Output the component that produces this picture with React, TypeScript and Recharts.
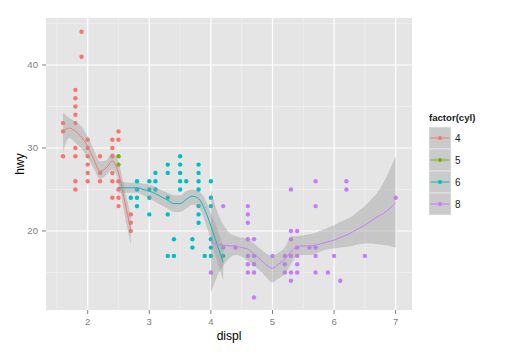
import React from 'react';
import {
  ComposedChart,
  Scatter,
  Line,
  Area,
  XAxis,
  YAxis,
  CartesianGrid,
  Label
} from 'recharts';

// axis setup
const xTicks = [2, 3, 4, 5, 6, 7];
const yTicks = [20, 30, 40];
const xMinor = [1.5, 2.5, 3.5, 4.5, 5.5, 6.5];
const yMinor = [15, 25, 35, 45];
const xDomain = [1.323, 7.265];
const yDomain = [10.48, 45.66];

const cylLevels = ['4', '5', '6', '8'];
const cylColors = ['#F8766D', '#7CAE00', '#00BFC4', '#C77CFF'];

// points: [displ, hwy values at that displ]
const cyl4Raw: [number, number[]][] = [
  [1.6, [33, 32, 29]],
  [1.8, [37, 36, 35, 34, 33, 30, 29, 26, 25]],
  [1.9, [44, 41]],
  [2.0, [31, 30, 29, 28, 27, 26]],
  [2.2, [29, 27, 26]],
  [2.4, [31, 30, 29, 27, 26, 24]],
  [2.5, [32, 31, 26, 25, 24, 23]],
  [2.7, [22, 21, 20]],
];
const cyl5Raw: [number, number[]][] = [
  [2.5, [29, 28]],
];
const cyl6Raw: [number, number[]][] = [
  [2.7, [24]],
  [2.8, [26, 25, 24, 23]],
  [3.0, [26, 25, 24, 22]],
  [3.1, [27, 26, 25]],
  [3.3, [28, 27, 24, 22, 17]],
  [3.4, [19, 17]],
  [3.5, [29, 28, 27, 26, 25]],
  [3.6, [26]],
  [3.7, [19, 18]],
  [3.8, [28, 27, 26, 25, 23, 22, 21]],
  [3.9, [17]],
  [4.0, [26, 24, 23, 19, 18, 17]],
  [4.2, [17]],
];
const cyl8Raw: [number, number[]][] = [
  [4.0, [15]],
  [4.2, [23, 18]],
  [4.4, [18]],
  [4.6, [23, 22, 21, 19, 17, 16, 15]],
  [4.7, [19, 17, 16, 15, 12]],
  [5.0, [17]],
  [5.2, [17, 16, 15]],
  [5.3, [25, 20, 19, 17, 15, 14]],
  [5.4, [20, 18, 17, 16, 15]],
  [5.6, [18]],
  [5.7, [26, 23, 18, 17, 15]],
  [5.9, [15]],
  [6.0, [17]],
  [6.1, [14]],
  [6.2, [26, 25]],
  [6.5, [17]],
  [7.0, [24]],
];

// loess fit + band: [displ, fit, lower, upper]
const cyl4Smooth = [
  [1.6, 32.0, 29.4, 34.3],
  [1.7, 32.4, 31.2, 33.6],
  [1.8, 32.0, 30.6, 33.2],
  [1.9, 31.3, 29.9, 32.6],
  [2.0, 30.2, 28.8, 31.4],
  [2.1, 28.6, 27.5, 29.8],
  [2.2, 27.2, 26.3, 28.4],
  [2.3, 27.6, 26.7, 28.5],
  [2.4, 28.4, 27.4, 29.4],
  [2.5, 27.0, 26.0, 28.3],
  [2.6, 23.6, 21.9, 25.1],
  [2.7, 20.1, 18.4, 21.8],
];
const cyl6Smooth = [
  [2.5, 25.2, 24.5, 26.0],
  [2.6, 25.2, 24.6, 25.9],
  [2.7, 25.2, 24.6, 25.8],
  [2.8, 25.2, 24.6, 25.8],
  [2.9, 25.0, 24.3, 25.7],
  [3.0, 24.8, 23.9, 25.6],
  [3.1, 24.5, 23.5, 25.3],
  [3.2, 24.1, 23.1, 24.9],
  [3.3, 23.7, 22.7, 24.6],
  [3.4, 23.3, 22.3, 24.3],
  [3.5, 23.3, 22.3, 24.3],
  [3.6, 23.8, 22.7, 24.8],
  [3.7, 24.2, 23.2, 25.0],
  [3.8, 23.9, 22.9, 24.8],
  [3.9, 22.6, 21.2, 23.9],
  [4.0, 20.6, 18.9, 22.1],
  [4.1, 18.4, 16.4, 20.3],
  [4.2, 16.2, 14.0, 18.2],
];
const cyl8Smooth = [
  [4.0, 18.6, 12.5, 25.0],
  [4.1, 18.4, 14.5, 22.4],
  [4.2, 18.3, 15.8, 20.8],
  [4.3, 18.2, 16.7, 19.8],
  [4.4, 18.2, 17.1, 19.4],
  [4.5, 18.0, 16.9, 19.2],
  [4.6, 17.8, 16.4, 19.0],
  [4.7, 17.2, 15.8, 18.5],
  [4.8, 16.6, 15.2, 17.9],
  [4.9, 15.9, 14.4, 17.3],
  [5.0, 15.5, 13.8, 17.0],
  [5.1, 16.0, 14.3, 17.4],
  [5.2, 16.6, 14.8, 18.0],
  [5.3, 17.5, 16.0, 19.3],
  [5.4, 18.1, 17.0, 19.4],
  [5.5, 18.2, 17.1, 19.5],
  [5.6, 18.2, 17.1, 19.6],
  [5.7, 18.3, 17.3, 19.8],
  [5.8, 18.5, 17.6, 20.1],
  [5.9, 18.7, 17.8, 20.4],
  [6.0, 18.9, 17.9, 20.7],
  [6.1, 19.2, 18.0, 21.1],
  [6.2, 19.5, 18.1, 21.4],
  [6.3, 19.9, 18.2, 21.8],
  [6.4, 20.3, 18.4, 22.4],
  [6.5, 20.7, 18.5, 23.0],
  [6.6, 21.2, 18.5, 23.8],
  [6.7, 21.7, 18.4, 24.6],
  [6.8, 22.1, 18.3, 25.8],
  [6.9, 22.7, 18.2, 27.3],
  [7.0, 23.4, 18.0, 29.0],
];

const toPoints = (raw: [number, number[]][]) =>
  raw.flatMap(([displ, hs]) => hs.map((hwy) => ({ displ, hwy })));

const toSmooth = (rows: number[][]) =>
  rows.map(([displ, fit, lo, hi]) => ({ displ, fit, band: [lo, hi] }));

const groups = [
  { name: '4', color: cylColors[0], points: toPoints(cyl4Raw), smooth: toSmooth(cyl4Smooth) },
  { name: '5', color: cylColors[1], points: toPoints(cyl5Raw), smooth: null },
  { name: '6', color: cylColors[2], points: toPoints(cyl6Raw), smooth: toSmooth(cyl6Smooth) },
  { name: '8', color: cylColors[3], points: toPoints(cyl8Raw), smooth: toSmooth(cyl8Smooth) },
];

const FONT = '"Liberation Sans", Arial, sans-serif';

const CylLegend = () => (
  <svg width={90} height={130} style={{ position: 'absolute', left: 420, top: 100 }}>
    <text x={9} y={21} fontSize={9.6} fontWeight="bold" fill="#1a1a1a" fontFamily={FONT}>
      factor(cyl)
    </text>
    {cylLevels.map((lvl, i) => {
      const cy = 38 + i * 22;
      return (
        <g key={lvl}>
          <rect x={9} y={27 + i * 22} width={22} height={22} fill="#CACACA" stroke="#F2F2F2" strokeWidth={0.6} />
          <line x1={10.5} x2={29.5} y1={cy} y2={cy} stroke={cylColors[i]} strokeWidth={1} />
          <circle cx={20} cy={cy} r={2} fill={cylColors[i]} />
          <text x={35} y={cy} dy="0.35em" fontSize={10} fill="#1a1a1a" fontFamily={FONT}>
            {lvl}
          </text>
        </g>
      );
    })}
  </svg>
);

export default function App() {
  return (
    <div style={{ position: 'absolute', left: 0, top: 0, width: 510, height: 354, background: '#fff' }}>
      <ComposedChart width={510} height={354} margin={{ top: 18, right: 98, bottom: 0, left: 0 }}>
        <CartesianGrid
          fill="#E5E5E5"
          stroke="#F2F2F2"
          strokeWidth={0.6}
          horizontalValues={yMinor}
          verticalValues={xMinor}
        />
        <CartesianGrid stroke="#FFFFFF" strokeWidth={1.2} horizontalValues={yTicks} verticalValues={xTicks} />
        <XAxis
          type="number"
          dataKey="displ"
          domain={xDomain}
          ticks={xTicks}
          allowDataOverflow
          height={44}
          axisLine={false}
          tickSize={4}
          tickMargin={4}
          tickLine={{ stroke: '#7F7F7F' }}
          tick={{ fill: '#7F7F7F', fontSize: 9.6, fontFamily: FONT }}
        >
          <Label value="displ" position="insideBottom" offset={14} fill="#000" fontSize={12} fontFamily={FONT} />
        </XAxis>
        <YAxis
          type="number"
          dataKey="hwy"
          domain={yDomain}
          ticks={yTicks}
          allowDataOverflow
          width={46}
          axisLine={false}
          tickSize={4}
          tickMargin={4}
          tickLine={{ stroke: '#7F7F7F' }}
          tick={{ fill: '#7F7F7F', fontSize: 9.6, fontFamily: FONT }}
        >
          <Label
            value="hwy"
            angle={-90}
            position="insideLeft"
            offset={20}
            fill="#000"
            fontSize={12}
            fontFamily={FONT}
            style={{ textAnchor: 'middle' }}
          />
        </YAxis>
        {groups.map((g) => (
          <Scatter
            key={`pts${g.name}`}
            data={g.points}
            dataKey="hwy"
            fill={g.color}
            isAnimationActive={false}
            zIndex={50}
            shape={(p: any) => <circle cx={p.cx} cy={p.cy} r={2.2} fill={g.color} />}
          />
        ))}
        {groups.filter((g) => g.smooth).map((g) => (
          <Area
            key={`band${g.name}`}
            data={g.smooth!}
            dataKey="band"
            type="monotone"
            stroke="none"
            fill="#999999"
            fillOpacity={0.4}
            isAnimationActive={false}
            zIndex={700}
          />
        ))}
        {groups.filter((g) => g.smooth).map((g) => (
          <Line
            key={`fit${g.name}`}
            data={g.smooth!}
            dataKey="fit"
            type="monotone"
            stroke={g.color}
            strokeWidth={1}
            dot={false}
            isAnimationActive={false}
            zIndex={800}
          />
        ))}
      </ComposedChart>
      <CylLegend />
    </div>
  );
}
